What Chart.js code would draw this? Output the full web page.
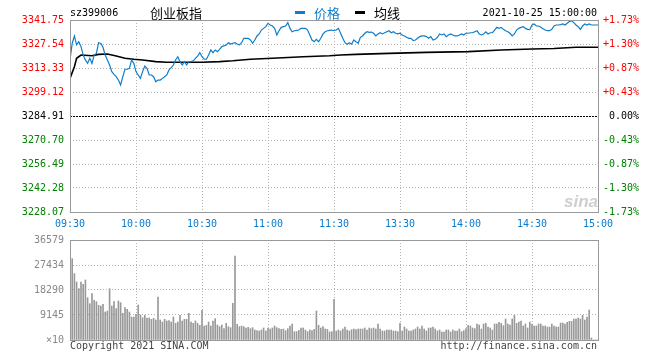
<!DOCTYPE html>
<html>
<head>
<meta charset="utf-8">
<script src="https://cdn.jsdelivr.net/npm/chart.js@4.4.1/dist/chart.umd.min.js"></script>
<style>
  body { margin: 0; background: #fff; }
  #wrap { position: relative; width: 660px; height: 360px; overflow: hidden; font-family: "DejaVu Sans Mono", monospace; font-size: 10px; }
  canvas { position: absolute; left: 0; top: 0; }
  .t { position: absolute; white-space: nowrap; line-height: 12px; }
  .cjk { font-family: "Noto Sans CJK SC", sans-serif; font-size: 13px; line-height: 16px; }
  .bar { position: absolute; width: 10px; height: 3px; }
</style>
</head>
<body>
<div id="wrap">
  <canvas id="priceChart" width="660" height="360"></canvas>
  <canvas id="volChart" width="660" height="360"></canvas>
  <div class="t" style="left:70px;top:7px;">sz399006</div>
  <div class="t cjk" style="left:150px;top:5px;">创业板指</div>
  <div class="bar" style="left:295px;top:11px;background:#0f7dc9;"></div>
  <div class="t cjk" style="left:314px;top:5px;color:#0f7dc9;">价格</div>
  <div class="bar" style="left:355px;top:11px;background:#000;"></div>
  <div class="t cjk" style="left:374px;top:5px;">均线</div>
  <div class="t" style="right:63px;top:7px;">2021-10-25 15:00:00</div>
  <div class="t" style="left:70px;top:340px;color:#444;">Copyright 2021 SINA.COM</div>
  <div class="t" style="right:63px;top:340px;color:#444;">http://finance.sina.com.cn</div>
  <div class="t" style="left:564px;top:192px;font:italic bold 17px 'Liberation Sans',sans-serif;color:#cfcfcf;">sina</div>
</div>
<script>
// previous close, left/right tick labels
const prevClose = 3284.91;
const priceTicks = [3341.75, 3327.54, 3313.33, 3299.12, 3284.91, 3270.70, 3256.49, 3242.28, 3228.07];
const pctLabels = ['+1.73%', '+1.30%', '+0.87%', '+0.43%', '0.00%', '-0.43%', '-0.87%', '-1.30%', '-1.73%'];
const timeTicks = [0, 30, 60, 90, 120, 150, 180, 210, 240];
const timeLabels = ['09:30', '10:00', '10:30', '11:00', '11:30', '13:30', '14:00', '14:30', '15:00'];
const volTicks = [36579, 27434, 18290, 9145, 0];
const volLabels = ['36579', '27434', '18290', '9145', '×10'];

// one price per minute, 09:30..11:30 then 13:01..15:00
const price = [
  3318.1, 3328.0, 3332.3, 3327.0, 3328.9, 3326.0, 3321.0, 3318.1, 3316.1, 3319.1,
  3316.1, 3321.0, 3322.0, 3328.3, 3327.9, 3325.6, 3321.0, 3318.1, 3315.1, 3311.2,
  3309.5, 3308.2, 3306.2, 3303.3, 3308.2, 3312.6, 3312.6, 3313.1, 3318.1, 3316.1,
  3311.2, 3309.2, 3307.2, 3311.2, 3314.5, 3313.1, 3309.2, 3309.2, 3308.2, 3305.2,
  3306.2, 3306.2, 3307.2, 3308.2, 3309.2, 3312.2, 3313.5, 3315.1, 3318.1, 3320.0,
  3317.1, 3315.1, 3317.1, 3315.1, 3317.1, 3317.1, 3317.6, 3319.0, 3320.4, 3322.4,
  3320.0, 3318.5, 3318.5, 3321.0, 3324.0, 3322.4, 3324.0, 3323.0, 3324.4, 3326.0,
  3326.4, 3327.0, 3328.3, 3327.5, 3328.0, 3328.3, 3327.5, 3327.0, 3328.3, 3330.9,
  3330.9, 3330.9, 3329.9, 3328.0, 3329.9, 3332.3, 3333.5, 3335.8, 3336.8, 3337.8,
  3339.8, 3338.8, 3338.2, 3336.8, 3332.9, 3335.4, 3337.4, 3337.8, 3338.2, 3340.2,
  3336.8, 3334.8, 3335.4, 3335.6, 3335.8, 3336.8, 3336.8, 3336.8, 3335.8, 3332.9,
  3329.9, 3328.9, 3330.3, 3328.9, 3330.9, 3333.5, 3334.8, 3335.4, 3335.6, 3335.8,
  3335.4, 3335.8, 3336.8, 3333.9, 3330.9, 3328.3, 3327.4, 3328.3, 3327.4, 3329.9,
  3328.9, 3328.0, 3331.5, 3332.3, 3333.9, 3334.8, 3334.4, 3334.6, 3333.9, 3332.3,
  3333.5, 3334.2, 3333.5, 3334.2, 3334.8, 3335.4, 3334.2, 3334.8, 3333.9, 3333.5,
  3333.9, 3332.9, 3332.3, 3331.5, 3330.9, 3330.9, 3329.5, 3329.9, 3330.9, 3331.9,
  3332.3, 3332.3, 3331.9, 3330.9, 3331.9, 3329.9, 3330.3, 3331.5, 3333.5, 3332.9,
  3333.5, 3331.9, 3332.9, 3333.5, 3332.9, 3332.3, 3332.3, 3332.9, 3333.5, 3332.9,
  3333.9, 3333.9, 3334.2, 3334.2, 3334.8, 3335.4, 3333.5, 3332.9, 3333.5, 3334.8,
  3333.5, 3334.2, 3334.2, 3335.8, 3337.4, 3336.8, 3337.4, 3336.2, 3335.4, 3334.8,
  3333.9, 3332.3, 3333.5, 3335.8, 3336.8, 3337.4, 3337.8, 3336.8, 3336.2, 3336.0,
  3338.8, 3339.4, 3338.2, 3338.2, 3337.4, 3336.6, 3335.8, 3335.4, 3335.4, 3336.2,
  3338.2, 3338.8, 3338.8, 3339.0, 3339.4, 3338.8, 3339.8, 3340.8, 3341.3, 3340.2,
  3338.8, 3337.8, 3336.2, 3338.2, 3339.4, 3338.8, 3339.4, 3338.8, 3338.8, 3338.8,
  3338.8
];

// average line, read at the minutes where it bends
const avgMinute = [0, 2, 3, 5, 10, 13, 17, 21, 25, 29, 33, 39, 44, 60, 68, 74, 82, 92, 106, 118, 123, 130, 145, 162, 181, 196, 210, 220, 230, 240];
const avgPrice = [3307.2, 3314.1, 3319.1, 3321.0, 3320.6, 3321.4, 3321.6, 3320.4, 3319.1, 3318.5,
  3318.1, 3317.1, 3316.7, 3316.7, 3317.1, 3317.6, 3318.5, 3319.1, 3320.0, 3320.6,
  3321.0, 3321.4, 3322.0, 3322.6, 3323.0, 3324.0, 3324.6, 3324.9, 3325.6, 3325.6];

// volume per minute (x10)
const volume = [
  36579, 29740, 24260, 21220, 18780, 21220, 20360, 21950, 15480, 13290,
  16950, 14500, 14020, 12680, 12440, 13050, 10240, 10610, 18780, 12440,
  14020, 11460, 14270, 13660, 9750, 11830, 11220, 10240, 8410, 8410,
  9390, 12800, 9150, 8170, 9020, 8050, 8050, 7560, 7930, 7320,
  15730, 7320, 6580, 7560, 6950, 7070, 6580, 8410, 6100, 6580,
  9020, 6950, 7560, 7560, 9750, 6580, 6100, 6950, 6100, 5370,
  10850, 5120, 5370, 6580, 5120, 6950, 7800, 5490, 4880, 5490,
  4150, 6100, 4880, 4510, 13410, 30730, 5730, 4880, 5120, 4880,
  4390, 4630, 4150, 4510, 3660, 3410, 3290, 3660, 4390, 3290,
  4270, 4020, 4390, 5120, 4510, 4150, 3900, 4020, 3410, 4150,
  5120, 5850, 3050, 3050, 3530, 4390, 4390, 3660, 3050, 3660,
  3410, 3900, 10610, 5370, 4390, 4880, 4020, 3900, 2930, 3050,
  14880,
  3290, 3660, 3290, 4020, 4750, 3660, 3290, 3780, 4020, 3780,
  4020, 4020, 4020, 4390, 3660, 4390, 4150, 4390, 4020, 5850,
  4020, 3290, 3290, 3660, 3660, 3660, 3290, 3290, 3050, 6100,
  3290, 4750, 4020, 3290, 3290, 3660, 4020, 4750, 4020, 5120,
  4020, 3290, 4390, 4390, 4750, 4020, 3290, 3660, 2930, 2930,
  3660, 3660, 2930, 3660, 3290, 3290, 4020, 3050, 3410, 4150,
  5370, 5120, 4390, 4150, 5850, 5490, 4020, 5850, 6100, 4750,
  4390, 3660, 5850, 5850, 6460, 6100, 5240, 7680, 5850, 5490,
  7680, 9020, 6100, 6580, 6950, 5120, 5850, 4390, 6580, 5850,
  5120, 5120, 5850, 5850, 5120, 5120, 4750, 4750, 5850, 5120,
  4750, 4750, 6220, 6220, 5850, 6460, 6830, 6830, 7680, 7680,
  8050, 7680, 9020, 7320, 8410, 10980, 730, 0, 0, 0
];

const monoFont = { family: 'DejaVu Sans Mono', size: 10 };
const gridGrey = '#b4b4b4';

function tickColor(v) {
  if (Math.abs(v - prevClose) < 0.001) return '#000';
  return v > prevClose ? '#ff0000' : '#008000';
}

// grey frame around the plot area and the dashed prev-close line
const frame = {
  id: 'frame',
  afterDatasetsDraw(chart, args, opts) {
    const { ctx, chartArea: a } = chart;
    ctx.save();
    if (opts.zeroLine) {
      const y = Math.round(chart.scales.y.getPixelForValue(prevClose)) + 0.5;
      ctx.strokeStyle = '#000';
      ctx.lineWidth = 1;
      ctx.setLineDash([2, 1]);
      ctx.beginPath();
      ctx.moveTo(a.left, y);
      ctx.lineTo(a.right, y);
      ctx.stroke();
      ctx.setLineDash([]);
    }
    ctx.strokeStyle = '#999';
    ctx.lineWidth = 1;
    ctx.strokeRect(a.left + 0.5, a.top + 0.5, a.right - a.left, a.bottom - a.top);
    ctx.restore();
  }
};

const priceCtx = document.getElementById('priceChart').getContext('2d');
const priceChart = new Chart(priceCtx, {
  type: 'line',
  data: {
    datasets: [{
      label: '价格',
      data: price.map((v, i) => ({ x: i, y: v })),
      borderColor: '#0f7dc9',
      borderWidth: 1.2,
      pointRadius: 0,
      tension: 0,
      yAxisID: 'y'
    }, {
      label: '均线',
      data: avgMinute.map((m, i) => ({ x: m, y: avgPrice[i] })),
      borderColor: '#000',
      borderWidth: 1.6,
      pointRadius: 0,
      tension: 0,
      yAxisID: 'y'
    }]
  },
  options: {
    responsive: false,
    animation: false,
    layout: { padding: { top: 20, bottom: 128, left: 0, right: 21 } },
    plugins: { legend: { display: false }, tooltip: { enabled: false }, frame: { zeroLine: true } },
    scales: {
      x: {
        type: 'linear', min: 0, max: 240,
        afterBuildTicks: s => { s.ticks = timeTicks.map(v => ({ value: v })); },
        afterFit: s => { s.height = 20; },
        ticks: { font: monoFont, color: '#0a7acc', padding: 6, maxRotation: 0, autoSkip: false,
          callback: (v, i) => timeLabels[i] },
        grid: { color: c => (c.index === 0 || c.index === 8) ? 'rgba(0,0,0,0)' : gridGrey, drawTicks: false, lineWidth: 1 },
        border: { display: false, dash: [1, 2] }
      },
      y: {
        type: 'linear', position: 'left',
        min: priceTicks[priceTicks.length - 1], max: priceTicks[0],
        afterBuildTicks: s => { s.ticks = priceTicks.map(v => ({ value: v })); },
        afterFit: s => { s.width = 70; },
        ticks: { font: monoFont, padding: 6, autoSkip: false,
          color: c => tickColor(c.tick.value),
          callback: v => v.toFixed(2) },
        grid: { color: c => (c.index === 0 || c.index === 4 || c.index === 8) ? 'rgba(0,0,0,0)' : gridGrey, drawTicks: false },
        border: { display: false, dash: [1, 2] }
      },
      pct: {
        type: 'linear', position: 'right',
        min: (priceTicks[priceTicks.length - 1] / prevClose - 1) * 100,
        max: (priceTicks[0] / prevClose - 1) * 100,
        afterBuildTicks: s => { s.ticks = priceTicks.map(v => ({ value: (v / prevClose - 1) * 100 })); },
        afterFit: s => { s.width = 41; },
        ticks: { font: monoFont, padding: 5, autoSkip: false, crossAlign: 'far',
          color: c => tickColor(priceTicks[c.index]),
          callback: (v, i) => pctLabels[i] },
        grid: { display: false, drawTicks: false },
        border: { display: false }
      }
    }
  },
  plugins: [frame]
});

const volCtx = document.getElementById('volChart').getContext('2d');
const volChart = new Chart(volCtx, {
  type: 'bar',
  data: {
    datasets: [{
      label: 'volume',
      data: volume.map((v, i) => ({ x: i, y: v })),
      backgroundColor: '#999',
      barThickness: 1
    }]
  },
  options: {
    responsive: false,
    animation: false,
    layout: { padding: { top: 240, bottom: 20, left: 0, right: 62 } },
    plugins: { legend: { display: false }, tooltip: { enabled: false }, frame: { zeroLine: false } },
    scales: {
      x: {
        type: 'linear', min: 0, max: 240, offset: false,
        afterBuildTicks: s => { s.ticks = timeTicks.map(v => ({ value: v })); },
        afterFit: s => { s.height = 0; },
        ticks: { display: false },
        grid: { color: c => (c.index === 0 || c.index === 8) ? 'rgba(0,0,0,0)' : gridGrey, drawTicks: false, offset: false },
        border: { display: false, dash: [1, 2] }
      },
      y: {
        type: 'linear', min: 0, max: volTicks[0],
        afterBuildTicks: s => { s.ticks = volTicks.map(v => ({ value: v })); },
        afterFit: s => { s.width = 70; },
        ticks: { font: monoFont, color: '#888', padding: 6, autoSkip: false,
          callback: (v, i) => volLabels[i] },
        grid: { color: c => (c.index === 0 || c.index === 4) ? 'rgba(0,0,0,0)' : gridGrey, drawTicks: false },
        border: { display: false, dash: [1, 2] }
      }
    }
  },
  plugins: [frame]
});
</script>
</body>
</html>
